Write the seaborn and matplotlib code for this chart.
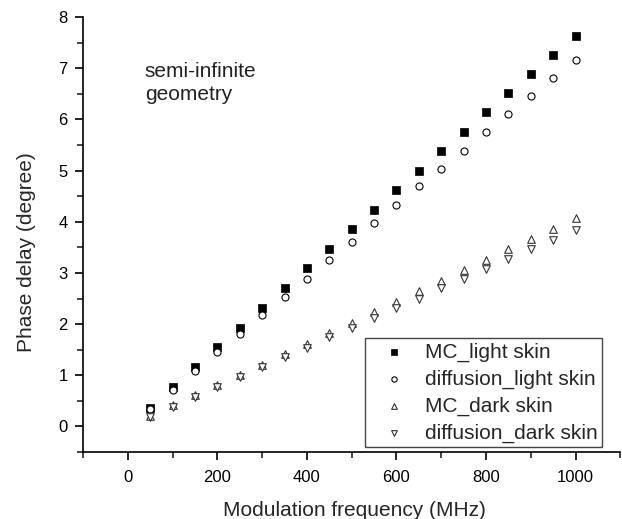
import numpy as np
import pandas as pd
import matplotlib
matplotlib.use("Agg")
import matplotlib.pyplot as plt
import seaborn as sns
from matplotlib.ticker import MultipleLocator

freq = [50, 100, 150, 200, 250, 300, 350, 400, 450, 500,
        550, 600, 650, 700, 750, 800, 850, 900, 950, 1000]
mc_light = [0.37, 0.77, 1.17, 1.55, 1.93, 2.32, 2.70, 3.09, 3.47, 3.85,
            4.24, 4.62, 5.00, 5.38, 5.76, 6.14, 6.51, 6.89, 7.26, 7.63]
diff_light = [0.35, 0.72, 1.08, 1.45, 1.81, 2.17, 2.53, 2.89, 3.25, 3.61,
              3.97, 4.33, 4.69, 5.04, 5.39, 5.75, 6.10, 6.46, 6.81, 7.16]
mc_dark = [0.21, 0.41, 0.61, 0.81, 1.00, 1.21, 1.42, 1.62, 1.83, 2.03,
           2.24, 2.44, 2.65, 2.85, 3.05, 3.25, 3.46, 3.66, 3.86, 4.07]
diff_dark = [0.19, 0.39, 0.58, 0.77, 0.96, 1.16, 1.35, 1.54, 1.74, 1.93,
             2.12, 2.31, 2.50, 2.70, 2.89, 3.08, 3.27, 3.46, 3.65, 3.84]
labels = ["MC_light skin", "diffusion_light skin", "MC_dark skin", "diffusion_dark skin"]

sns.set_style("ticks")
plt.rcParams['font.family'] = ['Liberation Sans', 'DejaVu Sans']

fig = plt.figure(figsize=(6.22, 5.19), dpi=100)
ax = fig.add_axes([0.1334, 0.129, 0.864, 0.838])

series = [mc_light, diff_light, mc_dark, diff_dark]
styles = [
    dict(marker="s", color="black", edgecolor="black", s=26, linewidth=0.5),
    dict(marker="o", color="white", edgecolor="black", s=26, linewidth=0.8),
    dict(marker="^", color="white", edgecolor="#333333", s=30, linewidth=0.8),
    dict(marker="v", color="white", edgecolor="#333333", s=30, linewidth=0.8),
]
for vals, lab, st in zip(series, labels, styles):
    df = pd.DataFrame({"freq": freq, "phase": vals})
    sns.scatterplot(data=df, x="freq", y="phase", ax=ax, label=lab, zorder=3, **st)

ax.set_xlim(-100, 1100)
ax.set_ylim(-0.5, 8)
ax.xaxis.set_major_locator(MultipleLocator(200))
ax.xaxis.set_minor_locator(MultipleLocator(100))
ax.yaxis.set_major_locator(MultipleLocator(1))
ax.yaxis.set_minor_locator(MultipleLocator(0.5))
ax.set_yticks(range(0, 9))
ax.tick_params(which="major", direction="out", length=6, width=1.2, labelsize=12, colors="black")
ax.tick_params(axis="x", which="major", pad=7)
ax.tick_params(axis="y", which="major", pad=5)
ax.tick_params(which="minor", direction="out", length=4, width=1.2)
for s in ["top", "right"]:
    ax.spines[s].set_visible(False)
for s in ["left", "bottom"]:
    ax.spines[s].set_linewidth(1.2)
    ax.spines[s].set_color("black")

ax.set_xlabel("Modulation frequency (MHz)", fontsize=15)
ax.set_ylabel("Phase delay (degree)", fontsize=15)
ax.xaxis.set_label_coords(0.506, -0.112)
ax.yaxis.set_label_coords(-0.088, 0.46)

ax.text(0.115, 0.897, "semi-infinite\ngeometry", transform=ax.transAxes,
        fontsize=15, va="top", ha="left", linespacing=1.3, color="#222222")

leg = ax.legend(loc="lower right", bbox_to_anchor=(0.966, 0.012), fontsize=15,
                frameon=True, fancybox=False, edgecolor="#444444", framealpha=1,
                labelspacing=0.37, handletextpad=0.3, borderpad=0.2, markerscale=0.75,
                handlelength=2.4, borderaxespad=0)
leg.get_frame().set_linewidth(1.0)

fig.savefig("out.png", dpi=100)
